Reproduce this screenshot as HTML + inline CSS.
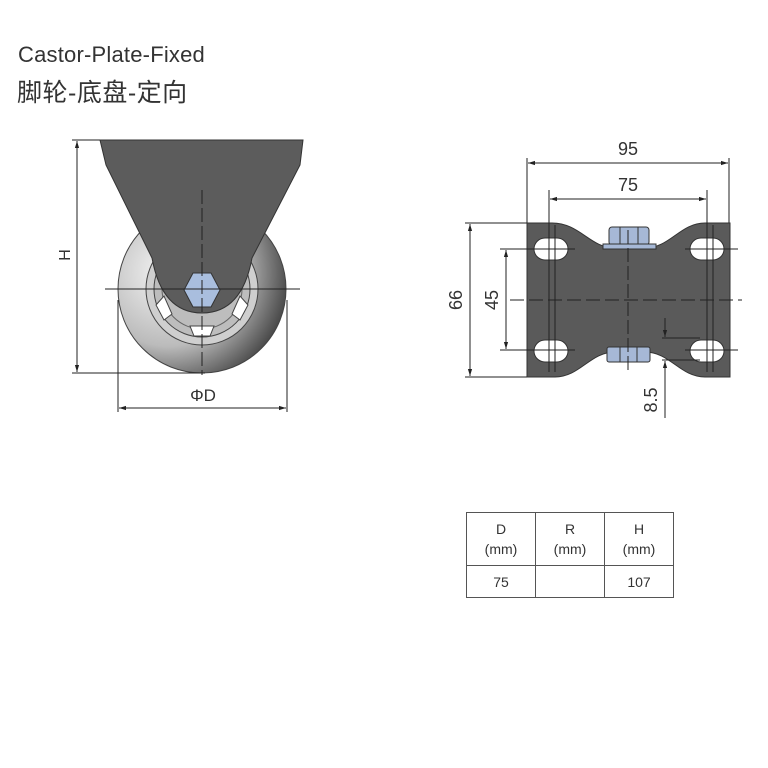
<!DOCTYPE html>
<html><head><meta charset="utf-8"><style>
body{margin:0;background:#fff;width:768px;height:768px;overflow:hidden;position:relative;font-family:"Liberation Sans","Noto Sans CJK SC",sans-serif}
.t{position:absolute;color:#333}
table{position:absolute;left:466px;top:512px;border-collapse:collapse;font-size:14px;color:#333}
td{border:1.5px solid #555;text-align:center;width:68px;padding:0;line-height:20px}
</style></head><body>
<div class="t" style="left:18px;top:42px;font-size:22px;letter-spacing:0.2px">Castor-Plate-Fixed</div>
<div class="t" style="left:17px;top:73px;font-size:25px;letter-spacing:0.5px">脚轮-底盘-定向</div>
<svg width="768" height="768" style="position:absolute;left:0;top:0" font-family="Liberation Sans, sans-serif">
<defs>
<radialGradient id="g" cx="0.3" cy="0.4" r="0.8"><stop offset="0" stop-color="#f6f6f6"/><stop offset="0.55" stop-color="#bbb"/><stop offset="1" stop-color="#2a2a2a"/></radialGradient>
<marker id="a" viewBox="0 0 10 10" refX="10" refY="5" markerWidth="7" markerHeight="7" orient="auto-start-reverse"><path d="M0,2L10,5L0,8z" fill="#222"/></marker>
</defs>
<circle cx="202" cy="289" r="84" fill="url(#g)" stroke="#444" stroke-width="1"/>
<circle cx="202" cy="289" r="56" fill="#cfcfcf" stroke="#444"/>
<circle cx="202" cy="289" r="48" fill="#bdbdbd" stroke="#444"/>
<circle cx="202" cy="289" r="40" fill="none" stroke="#666"/>
<g fill="#fff" stroke="#444">
<polygon points="190,326 214,326 210,336 194,336"/>
<polygon points="156,305 164,296 172,314 164,320"/>
<polygon points="248,305 240,296 232,314 240,320"/>
</g>
<path d="M100,140 L303,140 L300,165 L252,258 Q242,313 202,313 Q162,313 152,258 L106,165 Z" fill="#5c5c5c" stroke="#333"/>
<polygon points="193,273 211,273 220,290 211,307 193,307 184,290" fill="#a9bede" stroke="#333"/>
<g stroke="#222" stroke-width="1" fill="none">
<line x1="105" y1="289" x2="300" y2="289"/>
<line x1="202" y1="190" x2="202" y2="375" stroke-dasharray="14,4"/>
<line x1="72" y1="140" x2="100" y2="140"/>
<line x1="72" y1="373" x2="205" y2="373"/>
<line x1="77" y1="141" x2="77" y2="372" marker-start="url(#a)" marker-end="url(#a)"/>
<line x1="118" y1="300" x2="118" y2="412"/>
<line x1="287" y1="300" x2="287" y2="412"/>
<line x1="119" y1="408" x2="286" y2="408" marker-start="url(#a)" marker-end="url(#a)"/>
</g>
<text x="70" y="255" font-size="16" fill="#333" text-anchor="middle" transform="rotate(-90 70 255)">H</text>
<text x="203" y="401" font-size="17" fill="#333" text-anchor="middle">ΦD</text>
<path d="M527,223 L552,223 C580,223 590,248 615,248 L645,248 C670,248 680,223 705,223 L730,223 L730,377 L705,377 C680,377 670,352 645,352 L615,352 C590,352 580,377 555,377 L527,377 Z" fill="#5a5a5a" stroke="#333"/>
<g fill="#fff" stroke="#333">
<rect x="534" y="238" width="34" height="22" rx="11"/>
<rect x="690" y="238" width="34" height="22" rx="11"/>
<rect x="534" y="340" width="34" height="22" rx="11"/>
<rect x="690" y="340" width="34" height="22" rx="11"/>
</g>
<g fill="#a6b8d6" stroke="#333">
<rect x="609" y="227" width="40" height="18" rx="3"/>
<rect x="603" y="244" width="53" height="5"/>
<rect x="607" y="347" width="43" height="15" rx="2"/>
<line x1="620" y1="347" x2="620" y2="362"/><line x1="637" y1="347" x2="637" y2="362"/>
<line x1="620" y1="227" x2="620" y2="244"/><line x1="638" y1="227" x2="638" y2="244"/>
</g>
<g stroke="#222" stroke-width="1" fill="none">
<line x1="510" y1="300" x2="742" y2="300" stroke-dasharray="14,5"/>
<line x1="628" y1="230" x2="628" y2="372" stroke-dasharray="14,4"/>
<line x1="549" y1="190" x2="549" y2="372"/><line x1="555" y1="225" x2="555" y2="372"/>
<line x1="707" y1="190" x2="707" y2="372"/><line x1="713" y1="225" x2="713" y2="372"/>
<line x1="500" y1="249" x2="575" y2="249"/><line x1="685" y1="249" x2="738" y2="249"/>
<line x1="500" y1="350" x2="575" y2="350"/><line x1="685" y1="350" x2="738" y2="350"/>
<line x1="465" y1="223" x2="527" y2="223"/><line x1="465" y1="377" x2="527" y2="377"/>
<line x1="527" y1="158" x2="527" y2="223"/><line x1="729" y1="158" x2="729" y2="223"/>
<line x1="528" y1="163" x2="728" y2="163" marker-start="url(#a)" marker-end="url(#a)"/>
<line x1="550" y1="199" x2="706" y2="199" marker-start="url(#a)" marker-end="url(#a)"/>
<line x1="470" y1="224" x2="470" y2="376" marker-start="url(#a)" marker-end="url(#a)"/>
<line x1="506" y1="250" x2="506" y2="349" marker-start="url(#a)" marker-end="url(#a)"/>
<line x1="662" y1="338" x2="700" y2="338"/><line x1="662" y1="360" x2="700" y2="360"/>
<line x1="665" y1="318" x2="665" y2="337" marker-end="url(#a)"/>
<line x1="665" y1="418" x2="665" y2="361" marker-end="url(#a)"/>
</g>
<g font-size="18" fill="#333" text-anchor="middle">
<text x="628" y="155">95</text>
<text x="628" y="191">75</text>
<text x="462" y="300" transform="rotate(-90 462 300)">66</text>
<text x="498" y="300" transform="rotate(-90 498 300)">45</text>
<text x="657" y="400" transform="rotate(-90 657 400)">8.5</text>
</g>
</svg>
<table>
<tr style="height:53px"><td>D<br>(mm)</td><td>R<br>(mm)</td><td>H<br>(mm)</td></tr>
<tr style="height:32px"><td>75</td><td></td><td>107</td></tr>
</table>
</body></html>
